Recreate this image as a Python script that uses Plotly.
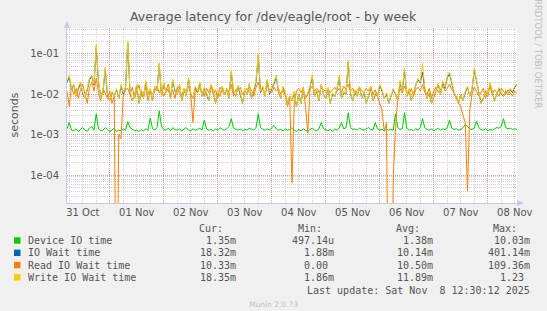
import datetime as dt
import plotly.graph_objects as go

# ---------------- data (hourly averages, milliseconds) ----------------
start = dt.datetime(2025, 10, 31, 5, 0)

device_ms = [
    1.4, 2.0, 1.3, 1.25, 1.4, 1.2, 1.35, 1.5, 1.3, 1.2, 1.45, 1.6, 1.3, 3.3, 1.4, 1.25, 1.3, 1.5, 1.35, 1.2,
    1.3, 1.45, 1.2, 1.3, 1.25, 1.4, 1.3, 2.1, 1.5, 1.35, 1.25, 1.3, 1.2, 1.35, 1.25, 1.4, 1.3, 2.6, 1.4, 1.3,
    1.5, 3.9, 1.6, 1.35, 1.3, 1.45, 1.25, 1.5, 1.35, 1.3, 1.4, 1.25, 1.35, 1.5, 1.3, 1.25, 1.4, 1.3, 1.35, 1.45,
    1.3, 2.3, 1.4, 1.3, 1.35, 1.25, 1.4, 1.3, 1.5, 1.35, 1.3, 1.4, 1.6, 2.5, 1.45, 1.35, 1.3, 1.4, 1.25, 1.35,
    1.3, 1.45, 1.35, 1.3, 1.5, 3.3, 1.5, 1.35, 1.3, 1.4, 1.3, 1.45, 1.7, 1.4, 1.3, 1.35, 1.25, 1.4, 1.3, 1.35,
    1.5, 1.3, 1.2, 1.35, 1.25, 1.4, 1.3, 1.2, 1.35, 1.45, 1.3, 1.25, 1.4, 2.0, 1.4, 1.3, 1.25, 1.35, 1.2, 1.4,
    1.3, 1.45, 2.0, 1.4, 1.5, 3.5, 1.5, 1.35, 1.4, 1.3, 1.45, 1.35, 1.3, 1.4, 1.5, 1.35, 1.3, 2.0, 1.4, 1.3,
    1.35, 1.25, 1.4, 1.3, 1.35, 1.3, 3.3, 1.5, 1.35, 1.4, 3.5, 1.45, 1.3, 1.35, 1.25, 1.4, 1.3, 1.5, 2.5, 1.5,
    1.35, 1.3, 1.4, 1.25, 1.35, 1.45, 1.3, 1.4, 1.35, 1.5, 2.3, 1.45, 1.35, 1.4, 1.3, 1.35, 1.5, 1.8, 1.6, 1.4,
    1.35, 1.45, 2.2, 1.5, 1.35, 1.3, 1.4, 1.25, 1.35, 1.3, 1.4, 1.5, 1.45, 1.6, 2.5, 1.5, 1.4, 1.45, 1.35, 1.4, 1.35,
]

iowait_ms = [
    20, 27, 13, 17, 9, 14, 19, 10, 8, 13, 23, 28, 17, 150, 19, 9, 11, 42, 9, 7,
    11, 9, 13, 8, 16, 10, 14, 190, 11, 7, 9, 17, 6, 12, 8, 20, 10, 13, 7, 15,
    12, 55, 9, 19, 11, 14, 8, 22, 12, 10, 17, 7, 13, 9, 24, 10, 8, 15, 11, 19,
    9, 14, 10, 7, 17, 12, 6, 11, 9, 15, 10, 13, 8, 36, 11, 9, 16, 10, 6, 13,
    10, 18, 8, 12, 20, 90, 11, 15, 9, 22, 10, 14, 18, 27, 11, 8, 15, 10, 6, 9,
    7, 11, 5, 10, 6, 13, 8, 10, 15, 27, 9, 12, 7, 17, 10, 8, 14, 6, 10, 9,
    13, 27, 8, 11, 10, 62, 10, 7, 12, 9, 15, 8, 11, 6, 10, 14, 7, 10, 9, 17,
    12, 8, 10, 6, 9, 13, 10, 7, 20, 11, 40, 9, 13, 7, 10, 17, 23, 19, 35, 14,
    8, 11, 6, 9, 13, 18, 10, 20, 14, 26, 32, 19, 11, 8, 6, 10, 7, 11, 15, 9,
    13, 40, 20, 10, 6, 8, 12, 9, 18, 11, 7, 10, 14, 10, 9, 12, 10, 13, 11, 15, 18.32,
]

read_ms = [
    12, 5, 16, 10, 14, 8, 13, 18, 10, 6, 15, 20, 12, 25, 11, 7, 14, 10, 8, 12,
    6, 9, 0, 1.0, 0.8, 9, 13, 14, 10, 15, 8, 12, 17, 9, 11, 14, 7, 13, 10, 12,
    16, 11, 14, 9, 12, 18, 10, 13, 8, 15, 11, 9, 14, 12, 16, 10, 2, 13, 11, 15,
    12, 9, 14, 11, 17, 10, 13, 8, 15, 12, 10, 14, 11, 18, 9, 13, 12, 15, 10, 12,
    14, 11, 13, 9, 15, 20, 12, 14, 10, 16, 13, 11, 15, 12, 14, 10, 13, 9, 5, 8,
    0.065, 6, 12, 14, 11, 15, 5, 1.1, 13, 16, 12, 14, 11, 15, 13, 12, 14, 11, 13, 15,
    12, 14, 11, 16, 13, 18, 12, 14, 10, 13, 15, 12, 11, 14, 12, 16, 10, 13, 9, 6,
    4, 1.2, 2, 0, 0, 0.09, 1.5, 8, 14, 11, 16, 12, 10, 14, 9, 13, 15, 12, 18, 11,
    10, 14, 8, 12, 15, 11, 13, 16, 12, 14, 18, 13, 11, 9, 6, 5, 3, 2, 0.04, 4,
    10, 15, 12, 9, 11, 14, 8, 12, 16, 10, 13, 11, 9, 14, 12, 10, 13, 11, 9, 12, 10.33,
]

write_ms = [
    22, 30, 14, 18, 9, 15, 20, 11, 8, 14, 25, 30, 18, 170, 20, 9, 12, 48, 10, 7,
    12, 9, 14, 8, 18, 11, 15, 210, 12, 7, 9, 18, 6, 13, 8, 22, 10, 14, 7, 16,
    12, 60, 9, 20, 11, 15, 8, 24, 13, 10, 18, 7, 14, 9, 26, 11, 8, 16, 12, 20,
    9, 15, 11, 7, 18, 13, 6, 12, 9, 16, 10, 14, 8, 40, 12, 9, 17, 11, 6, 14,
    10, 19, 8, 13, 22, 100, 12, 16, 9, 24, 11, 15, 20, 30, 12, 8, 16, 11, 6, 9,
    7, 12, 5, 10, 6, 14, 8, 11, 16, 30, 9, 13, 7, 18, 10, 8, 15, 6, 11, 9,
    14, 30, 8, 12, 10, 70, 11, 7, 13, 9, 16, 8, 12, 6, 10, 15, 7, 11, 9, 18,
    13, 8, 11, 6, 9, 14, 10, 7, 22, 12, 45, 9, 14, 7, 11, 18, 25, 20, 60, 15,
    8, 12, 6, 9, 14, 19, 10, 22, 15, 28, 36, 20, 12, 8, 6, 10, 7, 12, 16, 9,
    14, 45, 22, 11, 6, 8, 13, 9, 20, 12, 7, 10, 15, 11, 9, 13, 10, 14, 12, 16, 18.35,
]

series_names = ["Device IO time", "IO Wait time", "Read IO Wait time", "Write IO Wait time"]
series_colors = ["#00CC00", "#0066B3", "#FF8000", "#FFCC00"]
stat_cur = ["1.35m", "18.32m", "10.33m", "18.35m"]
stat_min = ["497.14u", "1.88m", "0.00 ", "1.86m"]
stat_avg = ["1.38m", "10.14m", "10.50m", "11.89m"]
stat_max = ["10.03m", "401.14m", "109.36m", "1.23 "]

# ---------------- figure ----------------
W, H = 547, 311
L, R, T, B = 67, 30, 28, 108
PW, PH = W - L - R, H - T - B


def px(x):
    return (x - L) / PW


def py(y):
    return (T + PH - y) / PH


times = [start + dt.timedelta(hours=i) for i in range(len(device_ms))]
floor = 1e-9  # zero values plunge off the bottom of the log axis

fig = go.Figure()
for vals, name, col in zip([device_ms, iowait_ms, read_ms, write_ms], series_names, series_colors):
    yv = [v / 1000.0 if v > 0 else floor for v in vals]
    fig.add_trace(go.Scatter(x=times, y=yv, mode="lines", name=name,
                             line=dict(color=col, width=1), showlegend=False,
                             hoverinfo="skip"))

x_start = start
x_end = start + dt.timedelta(hours=len(device_ms) - 1)

minor_y = [k * 10.0 ** d for d in range(-5, 0) for k in range(2, 10)]
major_y = [1e-4, 1e-3, 1e-2, 1e-1]
major_y_text = ["1e-04", "1e-03", "1e-02", "1e-01"]

axis_font = dict(family="DejaVu Sans", size=10, color="#555555")
major_grid = "#E89A9A"
minor_grid = "#D0D0D0"

fig.update_layout(
    width=W, height=H,
    margin=dict(l=L, r=R, t=T, b=B, pad=0),
    paper_bgcolor="#F0F0F0",
    plot_bgcolor="#FFFFFF",
    showlegend=False,
    xaxis=dict(
        type="date", range=[x_start, x_end],
        tickmode="linear", tick0="2025-10-31", dtick=86400000,
        ticklabelmode="period", tickformat="%d %b",
        showgrid=True, gridcolor=major_grid, griddash="1px,1px", gridwidth=1,
        minor=dict(dtick=21600000, tick0="2025-10-31", showgrid=True,
                   gridcolor=minor_grid, griddash="1px,1px", gridwidth=1),
        ticks="", tickfont=axis_font,
        showline=True, linecolor="#C8C8EE", linewidth=1,
        zeroline=False, fixedrange=True,
    ),
    yaxis=dict(
        type="log", range=[-4.69, -0.358],
        tickmode="array", tickvals=major_y, ticktext=major_y_text,
        showgrid=True, gridcolor=major_grid, griddash="1px,1px", gridwidth=1,
        minor=dict(tickmode="array", tickvals=minor_y, showgrid=True,
                   gridcolor=minor_grid, griddash="1px,1px", gridwidth=1),
        ticks="outside", ticklen=5, tickcolor="rgba(0,0,0,0)",
        tickfont=axis_font,
        showline=True, linecolor="#C8C8EE", linewidth=1,
        zeroline=False, fixedrange=True,
    ),
)

# axis arrows
fig.add_shape(type="path", xref="paper", yref="paper", xsizemode="pixel", ysizemode="pixel",
              xanchor=0, yanchor=1, path="M -3,0 L 3,0 L 0,7 Z",
              fillcolor="#C8C8EE", line=dict(width=0), layer="above")
fig.add_shape(type="path", xref="paper", yref="paper", xsizemode="pixel", ysizemode="pixel",
              xanchor=1, yanchor=0, path="M 0,-3 L 0,3 L 7,0 Z",
              fillcolor="#C8C8EE", line=dict(width=0), layer="above")

ann = []
ann.append(dict(text="Average latency for /dev/eagle/root - by week", x=px(W / 2), y=py(16),
                xref="paper", yref="paper", showarrow=False, xanchor="center", yanchor="middle",
                font=dict(family="DejaVu Sans", size=12.5, color="#555555")))
ann.append(dict(text="seconds", x=px(14), y=py(T + PH / 2), xref="paper", yref="paper",
                showarrow=False, textangle=-90, xanchor="center", yanchor="middle",
                font=dict(family="DejaVu Sans", size=11, color="#555555")))
ann.append(dict(text="RRDTOOL / TOBI OETIKER", x=px(538), y=py(54), xref="paper", yref="paper",
                showarrow=False, textangle=90, xanchor="center", yanchor="middle",
                font=dict(family="DejaVu Sans", size=8.5, color="#BFBFBF")))

mono = dict(family="DejaVu Sans Mono", size=10, color="#555555")
col_right = [238, 336, 434.5, 532]
head_right = [225, 324, 422, 519]
for hx, lab in zip(head_right, ["Cur:", "Min:", "Avg:", "Max:"]):
    ann.append(dict(text=lab, x=px(hx), y=py(228.5), xref="paper", yref="paper", showarrow=False,
                    xanchor="right", yanchor="middle", font=mono))

row_y = [240.5, 252.8, 265.1, 277.4]
for i, ry in enumerate(row_y):
    fig.add_shape(type="rect", xref="paper", yref="paper",
                  x0=px(14), x1=px(20.5), y0=py(ry + 3.2), y1=py(ry - 3.2),
                  fillcolor=series_colors[i], line=dict(width=0))
    ann.append(dict(text=series_names[i], x=px(26), y=py(ry), xref="paper", yref="paper",
                    showarrow=False, xanchor="left", yanchor="middle", font=mono))
    for cx, vals in zip(col_right, [stat_cur, stat_min, stat_avg, stat_max]):
        ann.append(dict(text=vals[i], x=px(cx), y=py(ry), xref="paper", yref="paper",
                        showarrow=False, xanchor="right", yanchor="middle", font=mono))

ann.append(dict(text="Last update: Sat Nov  8 12:30:12 2025", x=px(532), y=py(290), xref="paper",
                yref="paper", showarrow=False, xanchor="right", yanchor="middle", font=mono))
ann.append(dict(text="Munin 2.0.73", x=px(W / 2), y=py(304), xref="paper", yref="paper",
                showarrow=False, xanchor="center", yanchor="middle",
                font=dict(family="DejaVu Sans", size=7.5, color="#C0C0C0")))

fig.update_layout(annotations=ann)

fig.write_html("out.html")
